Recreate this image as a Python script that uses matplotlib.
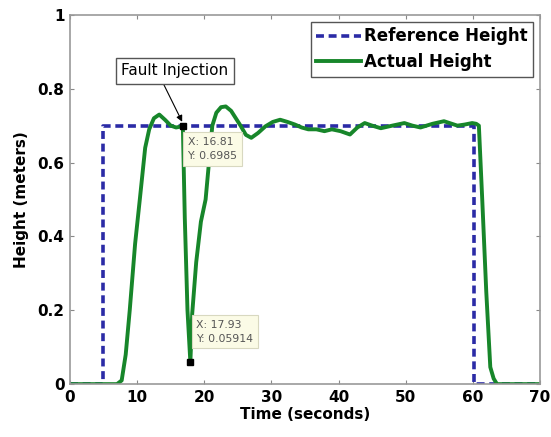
import numpy as np
from matplotlib import pyplot as plt

# reference height (step input)
ref_t = [0, 4.9, 4.9, 60.1, 60.1, 70]
ref_h = [0, 0, 0.7, 0.7, 0, 0]

# actual height
act_t = [0, 5, 7.0, 7.7, 8.3, 8.9, 9.7, 10.4, 11.2, 11.8, 12.5, 13.3, 14.2, 15.0, 15.8, 16.81,
         17.1, 17.5, 17.93, 18.2, 18.8, 19.5, 20.2, 20.7, 21.2, 21.8, 22.5, 23.2, 24.0, 24.7,
         25.4, 26.2, 27.0, 28.0, 29.1, 30.2, 31.3, 32.4, 33.5, 34.5, 35.5, 36.7, 37.9, 39.0,
         40.3, 41.7, 42.8, 43.9, 45.0, 46.3, 48.0, 49.8, 51.0, 52.2, 54.0, 55.7, 56.7, 57.7,
         58.8, 59.9, 60.5, 60.9, 61.4, 62.0, 62.6, 63.1, 63.6, 65, 70]
act_h = [0, 0, 0.0, 0.01, 0.08, 0.2, 0.38, 0.5, 0.64, 0.69, 0.72, 0.73, 0.715, 0.70, 0.695, 0.6985,
         0.45, 0.2, 0.05914, 0.19, 0.33, 0.44, 0.5, 0.6, 0.70, 0.735, 0.75, 0.752, 0.74, 0.72,
         0.70, 0.675, 0.667, 0.68, 0.698, 0.71, 0.716, 0.71, 0.703, 0.695, 0.69, 0.69, 0.685, 0.69,
         0.685, 0.676, 0.695, 0.707, 0.70, 0.693, 0.70, 0.707, 0.70, 0.695, 0.705, 0.712, 0.706, 0.70,
         0.703, 0.707, 0.705, 0.70, 0.5, 0.25, 0.046, 0.015, 0.0, 0, 0]

# data tips
tips_x = [16.81, 17.93]
tips_y = [0.6985, 0.05914]

blue = '#2b2ba6'
green = '#17862a'

fig = plt.figure(figsize=(5.51, 4.37), dpi=100)
ax = fig.add_axes([0.127, 0.121, 0.853, 0.845])

ax.plot(ref_t, ref_h, color=blue, lw=2.6, ls=(0, (2.2, 1.3)), label='Reference Height')
ax.plot(act_t, act_h, color=green, lw=2.8, label='Actual Height', solid_joinstyle='round')
ax.plot(tips_x, tips_y, 's', color='black', ms=5, zorder=5)

ax.set_xlim(0, 70)
ax.set_ylim(0, 1)
ax.set_xticks(np.arange(0, 71, 10))
ax.set_yticks([0, 0.2, 0.4, 0.6, 0.8, 1])
ax.set_yticklabels(['0', '0.2', '0.4', '0.6', '0.8', '1'])
ax.tick_params(direction='in', top=True, right=True, length=3, color='#888888',
               labelsize=11, pad=4)
for lbl in ax.get_xticklabels() + ax.get_yticklabels():
    lbl.set_fontweight('bold')
for sp in ax.spines.values():
    sp.set_color('#999999')
    sp.set_linewidth(1.2)

ax.set_xlabel('Time (seconds)', fontsize=11, fontweight='bold', labelpad=2)
ax.set_ylabel('Height (meters)', fontsize=11, fontweight='bold', labelpad=6)

leg = ax.legend(loc='upper right', prop={'weight': 'bold', 'size': 12}, handlelength=2.7,
                handletextpad=0.15, borderpad=0.35, labelspacing=0.45, fancybox=False,
                borderaxespad=0.4, framealpha=1)
leg.get_frame().set_edgecolor('#555555')
leg.get_frame().set_linewidth(1.0)

# fault injection annotation
ax.annotate('Fault Injection', xy=(tips_x[0] - 0.1, tips_y[0] + 0.012), xytext=(15.6, 0.848),
            fontsize=11, ha='center', va='center',
            bbox=dict(boxstyle='square,pad=0.35', fc='white', ec='#555555', lw=1),
            arrowprops=dict(arrowstyle='-|>', color='black', lw=0.8, shrinkA=0, shrinkB=0,
                            mutation_scale=9, relpos=(0.37, 0)))

# data tip boxes
ax.text(tips_x[0] + 0.7, tips_y[0] - 0.03, 'X: 16.81\nY: 0.6985', fontsize=7.8, color='#555555',
        va='top', ha='left', linespacing=1.5,
        bbox=dict(boxstyle='square,pad=0.45', fc='#fbfbe6', ec='#d8d8c0', lw=0.8))
ax.text(tips_x[1] + 0.9, 0.175, 'X: 17.93\nY: 0.05914', fontsize=7.8, color='#555555',
        va='top', ha='left', linespacing=1.5,
        bbox=dict(boxstyle='square,pad=0.45', fc='#fbfbe6', ec='#d8d8c0', lw=0.8))

fig.savefig('out.png', dpi=100)
